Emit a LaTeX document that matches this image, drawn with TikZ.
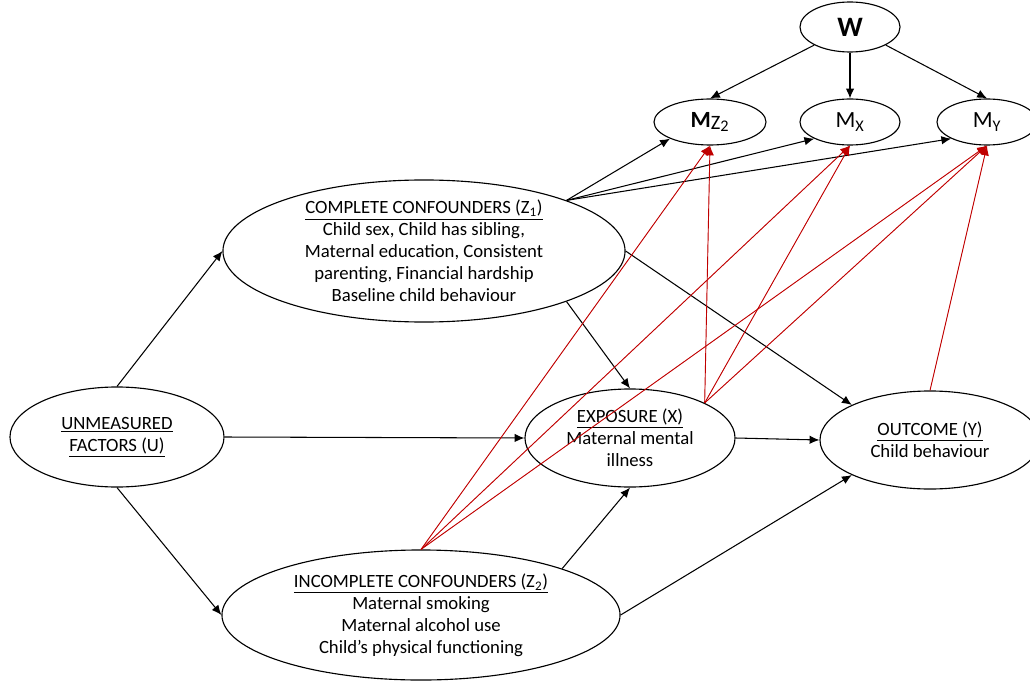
\documentclass[tikz,border=0pt]{standalone}
\usepackage{fontspec}
\setmainfont{Carlito}
\usepackage{tikz}
\usetikzlibrary{arrows.meta,shapes.geometric}
\definecolor{pathred}{RGB}{192,0,0}

\begin{document}
\begin{tikzpicture}[x=0.025cm,y=-0.025cm,
  var/.style={draw,ellipse,line width=0.8pt,inner sep=0pt,align=center,
    font=\fontsize{13.3}{15.6}\selectfont},
  med/.style={var,minimum height=1.15cm,font=\fontsize{16.5}{18}\selectfont},
  edge/.style={-{Latex[length=7pt,width=6pt]},line width=0.75pt},
  rededge/.style={-{Latex[length=7pt,width=6pt]},line width=0.65pt,draw=pathred,fill=pathred}]
\useasboundingbox (0,0) rectangle (1030,682);

\node[med,minimum width=2.5cm,minimum height=1.25cm,font=\fontsize{20}{22}\selectfont\bfseries] (W) at (850,27) {W};
\node[med,minimum width=2.8cm] (MZ) at (710,122) {\textbf{M}\raisebox{-1.5pt}{\fontsize{14.5}{16}\selectfont Z}\textsubscript{2}};
\node[med,minimum width=2.5cm] (MX) at (850,122) {M\textsubscript{X}};
\node[med,minimum width=2.5cm] (MY) at (987,122) {M\textsubscript{Y}};

\node[var,minimum width=10.05cm,minimum height=3.55cm,inner ysep=-4pt] (Z1) at (424,251) {
\underline{COMPLETE CONFOUNDERS (Z\textsubscript{1})}\\
Child sex, Child has sibling,\\
Maternal education, Consistent\\
parenting, Financial hardship\\
Baseline child behaviour};
\node[var,minimum width=5.35cm,minimum height=2.5cm] (U) at (117,437) {
\underline{UNMEASURED}\\\underline{FACTORS (U)}};
\node[var,minimum width=5.25cm,minimum height=2.45cm] (X) at (630,438) {
\underline{EXPOSURE (X)}\\Maternal mental\\illness};
\node[var,minimum width=5.5cm,minimum height=2.45cm] (Y) at (930,440) {
\underline{OUTCOME (Y)}\\Child behaviour};
\node[var,minimum width=9.95cm,minimum height=3.25cm] (Z2) at (421,615) {
\underline{INCOMPLETE CONFOUNDERS (Z\textsubscript{2})}\\
Maternal smoking\\
Maternal alcohol use\\
Child’s physical functioning};

\draw[edge] (W.south west) -- (MZ.north);
\draw[edge] (W.south) -- (MX.north);
\draw[edge] (W.south east) -- (MY.north);
\draw[edge] (Z1.north east) -- (MZ.south west);
\draw[edge] (Z1.north east) -- (MX.south west);
\draw[edge] (Z1.north east) -- (MY.south west);
\draw[edge] (Z1.south east) -- (X.north);
\draw[edge] (Z1.east) -- (Y.north west);
\draw[edge] (U.north) -- (Z1.west);
\draw[edge] (U.east) -- (X.west);
\draw[edge] (U.south) -- (Z2.west);
\draw[edge] (X.east) -- (Y.west);
\draw[edge] (Z2.north east) -- (X.south);
\draw[edge] (Z2.east) -- (Y.south west);

\draw[rededge] (Z2.north) -- (MZ.south);
\draw[rededge] (Z2.north) -- (MX.south);
\draw[rededge] (Z2.north) -- (MY.south);
\draw[rededge] (X.north east) -- (MZ.south);
\draw[rededge] (X.north east) -- (MX.south);
\draw[rededge] (X.north east) -- (MY.south);
\draw[rededge] (Y.north) -- (MY.south);
\end{tikzpicture}
\end{document}
